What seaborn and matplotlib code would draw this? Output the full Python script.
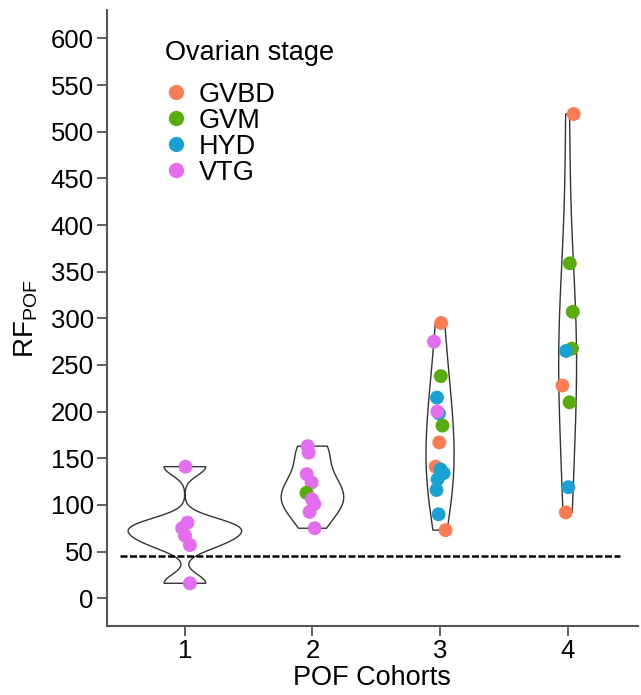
import numpy as np
import pandas as pd
import matplotlib
matplotlib.use("Agg")
import matplotlib.pyplot as plt
from matplotlib.lines import Line2D
import seaborn as sns

sns.set_style("white")
plt.rcParams["font.family"] = ["Liberation Sans", "DejaVu Sans"]
plt.rcParams["mathtext.fontset"] = "custom"
plt.rcParams["mathtext.rm"] = "Liberation Sans"
plt.rcParams["mathtext.it"] = "Liberation Sans:italic"
plt.rcParams["text.color"] = "black"
plt.rcParams["axes.labelcolor"] = "black"
plt.rcParams["xtick.color"] = "black"
plt.rcParams["ytick.color"] = "black"

# ---- data ----
cohort1_rf = [141, 81, 75, 67, 57, 16]
cohort1_stage = ["VTG"] * 6

cohort2_rf = [163, 156, 133, 124, 113, 106, 101, 92.5, 75]
cohort2_stage = ["VTG", "VTG", "VTG", "VTG", "GVM", "VTG", "VTG", "VTG", "VTG"]

cohort3_rf = [295, 275, 238, 215, 198, 200, 185, 167, 141, 138, 134, 127.5, 116, 90, 73]
cohort3_stage = ["GVBD", "VTG", "GVM", "HYD", "HYD", "VTG", "GVM", "GVBD", "GVBD",
                 "HYD", "HYD", "HYD", "HYD", "HYD", "GVBD"]

cohort4_rf = [519, 359, 307, 267.5, 265, 228, 210, 119, 92]
cohort4_stage = ["GVBD", "GVM", "GVM", "GVM", "HYD", "GVBD", "GVM", "HYD", "GVBD"]

stages = ["GVBD", "GVM", "HYD", "VTG"]
stage_colors = ["#FB7B55", "#58AC0E", "#17A2D3", "#E46CEE"]
threshold = 45
y_ticks = list(range(0, 601, 50))
x_ticks = [1, 2, 3, 4]

# violin styling per cohort (max width in x units, kernel bandwidth multiplier)
violin_widths = [0.89, 0.49, 0.22, 0.14]
violin_bw_adjust = [1.0, 1.15, 1.5, 2.0]

cohorts = [1] * len(cohort1_rf) + [2] * len(cohort2_rf) + [3] * len(cohort3_rf) + [4] * len(cohort4_rf)
df = pd.DataFrame({
    "cohort": cohorts,
    "rf": cohort1_rf + cohort2_rf + cohort3_rf + cohort4_rf,
    "stage": cohort1_stage + cohort2_stage + cohort3_stage + cohort4_stage,
})


def nrd0(kde):
    x = np.asarray(kde.dataset).ravel()
    sd = np.std(x, ddof=1)
    q75, q25 = np.percentile(x, [75, 25])
    lo = min(sd, (q75 - q25) / 1.34)
    if lo <= 0:
        lo = sd
    bw = 0.9 * lo * len(x) ** (-0.2)
    return bw / sd


fig = plt.figure(figsize=(6.41, 6.95), dpi=100)
ax = fig.add_axes([0.167, 0.099, 0.828, 0.886])

for c, w, adj in zip(x_ticks, violin_widths, violin_bw_adjust):
    sub = df[df["cohort"] == c]
    sns.violinplot(data=sub, x="cohort", y="rf", native_scale=True, density_norm="width",
                   cut=0, inner=None, fill=False, color="#333333", linewidth=1.0,
                   bw_method=nrd0, bw_adjust=adj, width=w, ax=ax)

ax.axhline(threshold, xmin=0.025, xmax=0.966, color="black", lw=1.8,
           ls=(0, (2.8, 1.0)), zorder=3)

np.random.seed(3)
sns.stripplot(data=df, x="cohort", y="rf", hue="stage", hue_order=stages,
              palette=stage_colors, native_scale=True, jitter=0.05, size=10,
              linewidth=0, ax=ax, legend=False, zorder=4)

ax.set_xlim(0.39, 4.55)
ax.set_ylim(-30, 630)
ax.set_yticks(y_ticks)
ax.set_xticks(x_ticks)
ax.set_yticklabels([str(v) for v in y_ticks], fontsize=18.5)
ax.set_xticklabels([str(v) for v in x_ticks], fontsize=18.5)
ax.tick_params(axis="both", direction="out", length=7, width=1.3, color="#555555",
               labelcolor="black", left=True, bottom=True, pad=2.5)
for s in ["top", "right"]:
    ax.spines[s].set_visible(False)
for s in ["left", "bottom"]:
    ax.spines[s].set_color("#555555")
    ax.spines[s].set_linewidth(1.5)

ax.set_xlabel("POF Cohorts", fontsize=19.5, labelpad=1, color="black")
ax.set_ylabel(r"RF$_{\mathrm{POF}}$", fontsize=20, labelpad=8, color="black")

handles = [Line2D([0], [0], marker="o", ls="", markersize=11, markerfacecolor=c,
                  markeredgewidth=0) for c in stage_colors]
leg = ax.legend(handles, stages, title="Ovarian stage", loc="upper left",
                bbox_to_anchor=(0.089, 0.969), frameon=False, fontsize=19.5,
                title_fontsize=19.5, labelspacing=0.0, handletextpad=0.45,
                handlelength=0.8, alignment="left", borderaxespad=0,
                labelcolor="black")
leg.get_title().set_color("black")
leg._legend_box.sep = 11

fig.savefig("out.png", dpi=100)
